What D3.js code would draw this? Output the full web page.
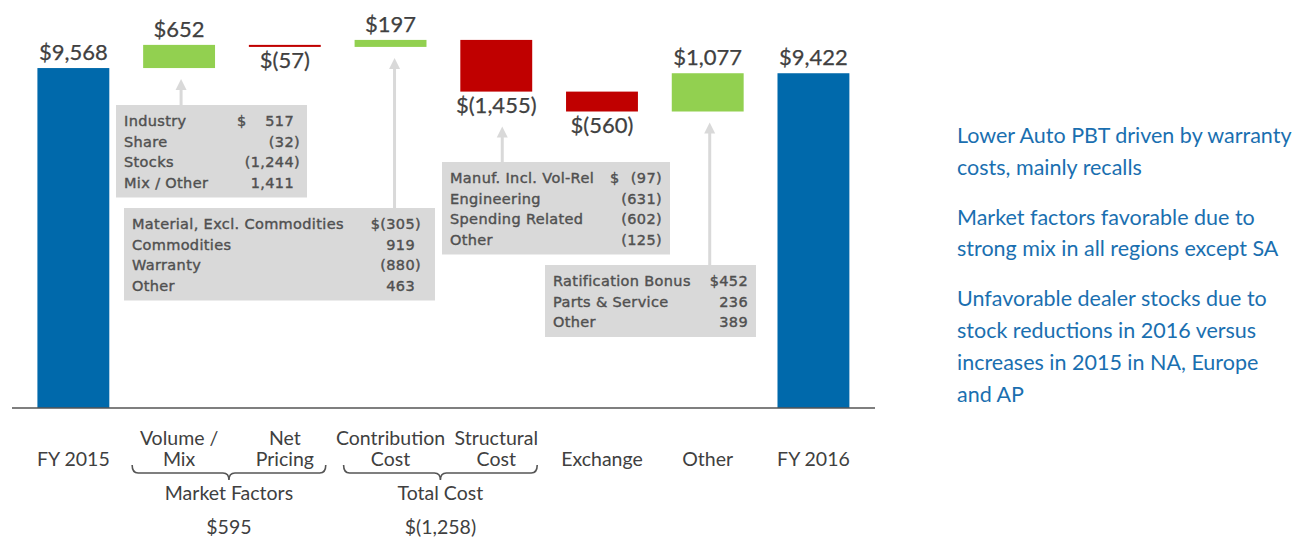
<!DOCTYPE html>
<html>
<head>
<meta charset="utf-8">
<script src="https://cdn.jsdelivr.net/npm/d3@7"></script>
<style>
  html, body { margin: 0; padding: 0; background: #ffffff; }
  svg { display: block; }
</style>
</head>
<body>
<svg id="chart" width="1299" height="537"></svg>
<script>
// ---------------- DATA ----------------
const categories = ["FY 2015", "Volume / Mix", "Net Pricing", "Contribution Cost", "Structural Cost", "Exchange", "Other", "FY 2016"];
const categoryLines = [["FY 2015"], ["Volume /", "Mix"], ["Net", "Pricing"], ["Contribution", "Cost"], ["Structural", "Cost"], ["Exchange"], ["Other"], ["FY 2016"]];
const values = [9568, 652, -57, 197, -1455, -560, 1077, 9422];
const isTotal = [true, false, false, false, false, false, false, true];
const valueLabels = ["$9,568", "$652", "$(57)", "$197", "$(1,455)", "$(560)", "$1,077", "$9,422"];

const groupNames = ["Market Factors", "Total Cost"];
const groupValueLabels = ["$595", "$(1,258)"];
const groupFrom = ["Volume / Mix", "Contribution Cost"];
const groupTo = ["Net Pricing", "Structural Cost"];

const volMixItems = ["Industry", "Share", "Stocks", "Mix / Other"];
const volMixValues = [517, -32, -1244, 1411];
const contribItems = ["Material, Excl. Commodities", "Commodities", "Warranty", "Other"];
const contribValues = [-305, 919, -880, 463];
const structItems = ["Manuf. Incl. Vol-Rel", "Engineering", "Spending Related", "Other"];
const structValues = [-97, -631, -602, -125];
const otherItems = ["Ratification Bonus", "Parts & Service", "Other"];
const otherValues = [452, 236, 389];

const notes = [
  ["Lower Auto PBT driven by warranty", "costs, mainly recalls"],
  ["Market factors favorable due to", "strong mix in all regions except SA"],
  ["Unfavorable dealer stocks due to", "stock reductions in 2016 versus", "increases in 2015 in NA, Europe", "and AP"]
];

// ---------------- STYLE ----------------
const COL_TOTAL = "#0069ab";
const COL_POS = "#92d050";
const COL_NEG = "#c00000";
const COL_TEXT = "#404040";
const COL_BOX = "#d9d9d9";
const COL_BOXTEXT = "#505050";
const COL_NOTE = "#1a6fb0";
const FONT = "Lato, 'Open Sans', sans-serif";
const BOXFONT = "'DejaVu Sans', sans-serif";

const svg = d3.select("#chart");

const x = d3.scaleBand().domain(categories).range([20.5, 866.3]).paddingInner(0.32).paddingOuter(0.16);
const y = d3.scaleLinear().domain([0, 10000]).range([408, 52.7]);

// waterfall computation
let running = 0;
const bars = categories.map((c, i) => {
  let start, end;
  if (isTotal[i]) { start = 0; end = values[i]; running = values[i]; }
  else { start = running; end = running + values[i]; running = end; }
  return { cat: c, i, start, end, v: values[i], total: isTotal[i], label: valueLabels[i] };
});

// bars
svg.append("g").selectAll("rect").data(bars).join("rect")
  .attr("x", d => x(d.cat))
  .attr("width", x.bandwidth())
  .attr("y", d => y(Math.max(d.start, d.end)))
  .attr("height", d => Math.max(1.5, Math.abs(y(d.start) - y(d.end))))
  .attr("fill", d => d.total ? COL_TOTAL : (d.v >= 0 ? COL_POS : COL_NEG));

// value labels
svg.append("g").selectAll("text").data(bars).join("text")
  .attr("x", d => x(d.cat) + x.bandwidth() / 2)
  .attr("y", d => (d.total || d.v >= 0) ? y(Math.max(d.start, d.end)) - 8 : y(Math.min(d.start, d.end)) + 21)
  .attr("text-anchor", "middle")
  .attr("font-family", FONT)
  .attr("font-size", 22)
  .attr("fill", COL_TEXT)
  .attr("stroke", COL_TEXT).attr("stroke-width", 0.25)
  .text(d => d.label);

// axis baseline
svg.append("line")
  .attr("x1", 12).attr("x2", 875)
  .attr("y1", y(0)).attr("y2", y(0))
  .attr("stroke", "#555").attr("stroke-width", 1.5);

// category labels
const catG = svg.append("g");
categories.forEach((c, i) => {
  const lines = categoryLines[i];
  const t = catG.append("text")
    .attr("text-anchor", "middle")
    .attr("font-family", FONT)
    .attr("font-size", 19.5)
    .attr("fill", COL_TEXT);
  const base = lines.length === 1 ? 466 : 444.5;
  lines.forEach((l, k) => {
    t.append("tspan").attr("x", x(c) + x.bandwidth() / 2).attr("y", base + k * 21.5).text(l);
  });
});

// braces + group labels
groupNames.forEach((g, i) => {
  const x1 = x(groupFrom[i]) - 11;
  const x2 = x(groupTo[i]) + x.bandwidth() + 5;
  const xm = (x1 + x2) / 2;
  const yt = 465, yh = 473, yb = 480, r = 6;
  const p = `M${x1},${yt} Q${x1},${yh} ${x1 + r},${yh} L${xm - r},${yh} Q${xm},${yh} ${xm},${yb} Q${xm},${yh} ${xm + r},${yh} L${x2 - r},${yh} Q${x2},${yh} ${x2},${yt}`;
  svg.append("path").attr("d", p).attr("fill", "none").attr("stroke", "#555").attr("stroke-width", 1.6);
  svg.append("text").attr("x", xm).attr("y", 500).attr("text-anchor", "middle")
    .attr("font-family", FONT).attr("font-size", 19.5).attr("fill", COL_TEXT).text(g);
  svg.append("text").attr("x", xm).attr("y", 534).attr("text-anchor", "middle")
    .attr("font-family", FONT).attr("font-size", 19.5).attr("fill", COL_TEXT).text(groupValueLabels[i]);
});

// detail boxes
const fmt = d3.format(",");
function fmtVal(v) { return v < 0 ? "(" + fmt(-v) + ")" : fmt(v); }

const boxes = [
  { cat: "Volume / Mix", items: volMixItems, vals: volMixValues, left: 116, top: 105, width: 191, padR: 7, dollarX: 237, arrowDx: 2 },
  { cat: "Contribution Cost", items: contribItems, vals: contribValues, left: 124, top: 208, width: 311, padR: 14, dollarX: null, arrowDx: 4 },
  { cat: "Structural Cost", items: structItems, vals: structValues, left: 442, top: 162, width: 228, padR: 8, dollarX: 610, arrowDx: 6 },
  { cat: "Other", items: otherItems, vals: otherValues, left: 545, top: 265, width: 211, padR: 8, dollarX: null, arrowDx: 2 }
];

const arrowG = svg.append("g");
const boxG = svg.append("g");
function boxText(sel) {
  return sel.attr("font-family", BOXFONT).attr("font-size", 14.5).attr("letter-spacing", 0.35)
    .attr("fill", COL_BOXTEXT).attr("stroke", COL_BOXTEXT).attr("stroke-width", 0.4);
}
boxes.forEach(b => {
  const bar = bars[categories.indexOf(b.cat)];
  const ax = x(b.cat) + x.bandwidth() / 2 + b.arrowDx;
  const tipY = bar.v >= 0 ? y(Math.min(bar.start, bar.end)) + 11 : y(Math.min(bar.start, bar.end)) + 35;
  const lh = 20.5;
  const h = 21 + lh * (b.items.length - 1) + 10;
  arrowG.append("line").attr("x1", ax).attr("x2", ax).attr("y1", tipY + 8).attr("y2", b.top)
    .attr("stroke", COL_BOX).attr("stroke-width", 3);
  arrowG.append("path").attr("d", `M${ax},${tipY} L${ax - 5.5},${tipY + 11} L${ax + 5.5},${tipY + 11} Z`).attr("fill", COL_BOX);

  boxG.append("rect").attr("x", b.left).attr("y", b.top).attr("width", b.width).attr("height", h).attr("fill", COL_BOX);
  const anyNeg = b.vals.some(v => v < 0);
  const right = b.left + b.width - b.padR;
  b.items.forEach((it, k) => {
    const yy = b.top + 21 + k * lh;
    boxText(boxG.append("text").attr("x", b.left + 8).attr("y", yy)).text(it);
    const v = b.vals[k];
    let s = fmtVal(v);
    if (k === 0 && b.dollarX === null) s = "$" + s;
    const t = boxText(boxG.append("text").attr("x", right).attr("y", yy).attr("text-anchor", "end"));
    t.append("tspan").text(s);
    if (anyNeg && v >= 0) t.append("tspan").attr("fill-opacity", 0).attr("stroke-opacity", 0).text(")");
    if (k === 0 && b.dollarX !== null) {
      boxText(boxG.append("text").attr("x", b.dollarX).attr("y", yy)).text("$");
    }
  });
});

// notes on the right
let ny = 143;
const noteG = svg.append("g");
notes.forEach((para, pi) => {
  para.forEach((line, li) => {
    noteG.append("text").attr("x", 957).attr("y", ny)
      .attr("font-family", FONT).attr("font-size", 21.5).attr("fill", COL_NOTE).text(line);
    ny += 31.8;
  });
  ny += 18;
});
</script>
</body>
</html>
